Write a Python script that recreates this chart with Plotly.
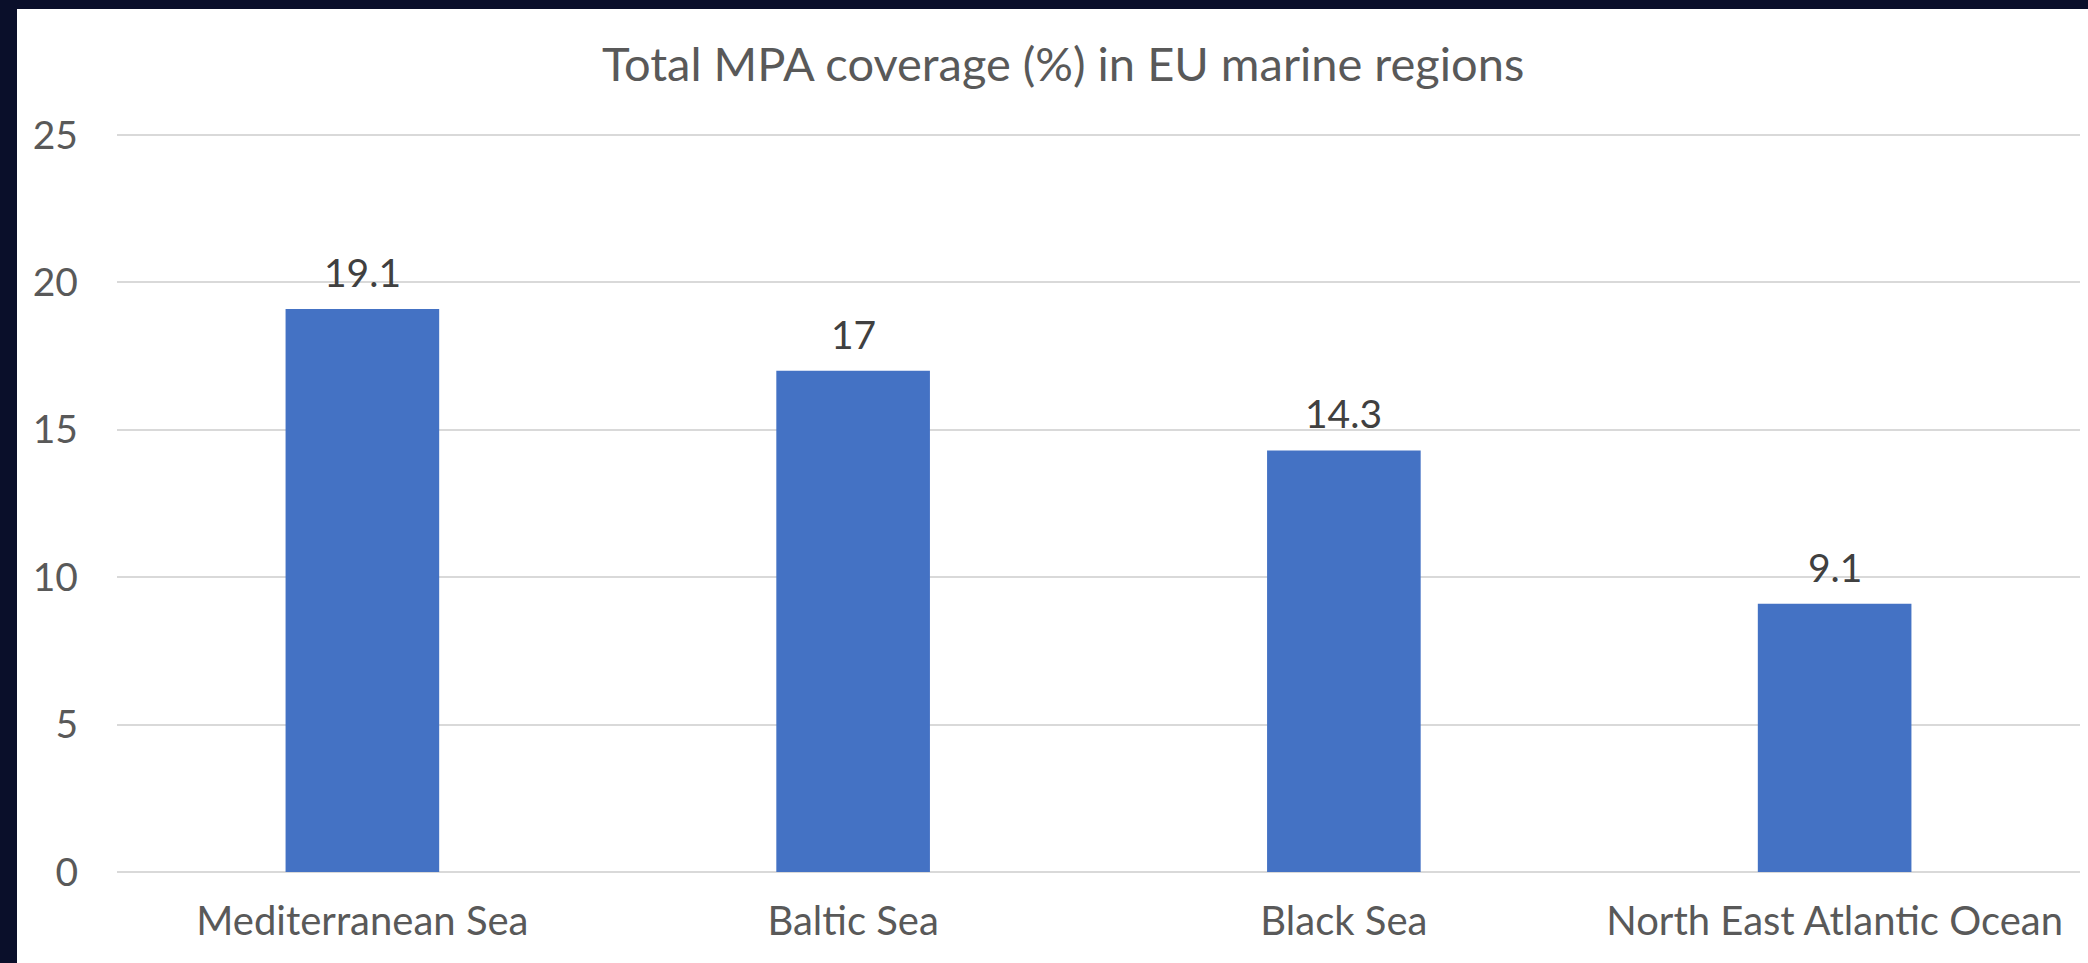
import plotly.graph_objects as go

categories = ["Mediterranean Sea", "Baltic Sea", "Black Sea", "North East Atlantic Ocean"]
values = [19.1, 17, 14.3, 9.1]
value_labels = ["19.1", "17", "14.3", "9.1"]
y_ticks = [0, 5, 10, 15, 20, 25]
title_text = "Total MPA coverage (%) in EU marine regions"

W, H = 2088, 963
L, R, T, B = 117, 8, 106, 91
pw, ph = W - L - R, H - T - B
PX_PER_UNIT = (872 - 135) / 25.0
Y_TOP = ph / PX_PER_UNIT
FONT = "Lato"
DARK = "#0A0F2A"


def px_x(p):
    return (p - L) / pw


def px_y(p):
    return (H - B - p) / ph


fig = go.Figure()
fig.add_trace(go.Bar(
    x=categories, y=values,
    marker=dict(color="#4472C4", line=dict(width=0)),
    width=0.313,
    hoverinfo="skip",
))

for c, v, t in zip(categories, values, value_labels):
    fig.add_annotation(x=c, y=v, text=t, showarrow=False, xref="x", yref="y",
                       yanchor="bottom", yshift=12,
                       font=dict(family=FONT, size=39, color="#404040"))

# title
fig.add_annotation(x=px_x(1063), y=px_y(63), xref="paper", yref="paper",
                   text=title_text, showarrow=False, xanchor="center", yanchor="middle",
                   font=dict(family=FONT, size=47, color="#595959"))

# dark frame (left and top)
fig.add_shape(type="rect", xref="paper", yref="paper",
              x0=px_x(0), x1=px_x(17), y0=px_y(H), y1=px_y(0),
              fillcolor=DARK, line=dict(width=0), layer="above")
fig.add_shape(type="rect", xref="paper", yref="paper",
              x0=px_x(0), x1=px_x(W), y0=px_y(9), y1=px_y(0),
              fillcolor=DARK, line=dict(width=0), layer="above")

fig.update_layout(
    width=W, height=H,
    margin=dict(l=L, r=R, t=T, b=B, pad=0),
    paper_bgcolor="white", plot_bgcolor="white",
    showlegend=False,
    font=dict(family=FONT, color="#595959"),
    xaxis=dict(showgrid=False, showline=False, zeroline=False,
               tickfont=dict(family=FONT, size=40, color="#595959"),
               ticklabelstandoff=22, fixedrange=True),
    yaxis=dict(range=[0, Y_TOP], tickvals=y_ticks, showgrid=True,
               gridcolor="#D9D9D9", gridwidth=2,
               zeroline=True, zerolinecolor="#D9D9D9", zerolinewidth=2,
               showline=False,
               tickfont=dict(family=FONT, size=39, color="#595959"),
               ticklabelstandoff=38, fixedrange=True),
)

fig.write_html(
    "out.html", config={"displayModeBar": False},
    post_script=(
        "document.documentElement.style.margin='0';"
        "document.documentElement.style.overflow='hidden';"
        "document.documentElement.style.background='white';"
        "document.body.style.margin='0';"
        "document.body.style.overflow='hidden';"
        "document.body.style.background='white';"
    ),
)
